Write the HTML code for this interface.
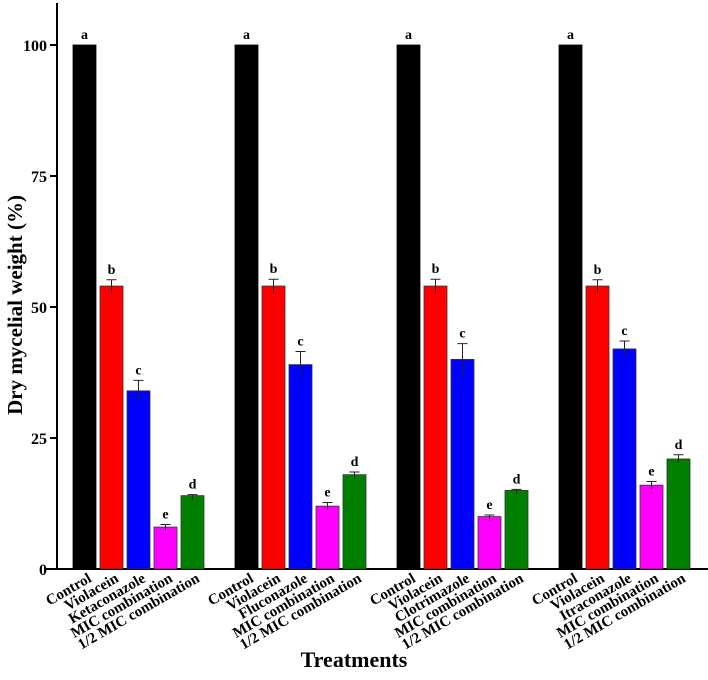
<!DOCTYPE html>
<html><head><meta charset="utf-8"><style>
body{margin:0;background:#fff}
svg text{font-family:"Liberation Serif",serif;font-weight:bold;fill:#000}
</style></head><body>
<svg id="chart" width="708" height="675" xmlns="http://www.w3.org/2000/svg">
<g id="plot"></g>
<text transform="translate(22,305) rotate(-90)" text-anchor="middle" font-size="21">Dry mycelial weight (%)</text>
<text x="354" y="667" text-anchor="middle" font-size="22">Treatments</text>
</svg>
<script>
const groups=["Ketaconazole","Fluconazole","Clotrimazole","Itraconazole"];
const treatments=["Control","Violacein","AZOLE","MIC combination","1/2 MIC combination"];
const colors=["#000000","#ff0000","#0000ff","#ff00ff","#008000"];
const values=[[100,54,34,8,14],[100,54,39,12,18],[100,54,40,10,15],[100,54,42,16,21]];
const errors=[[0,1.2,2,0.5,0.2],[0,1.3,2.5,0.7,0.5],[0,1.3,3,0.3,0.2],[0,1.2,1.5,0.7,0.8]];
const letters=["a","b","c","e","d"];
const yTicks=[0,25,50,75,100];
const NS="http://www.w3.org/2000/svg";
const g=document.getElementById('plot');
const y=v=>569-v*5.24;
const barX=(gi,bi)=>73+gi*162+bi*27;
function mk(t,a){const e=document.createElementNS(NS,t);for(const k in a)e.setAttribute(k,a[k]);g.appendChild(e);return e;}
let ax=mk('line',{x1:57,y1:3,x2:57,y2:570,stroke:'#000','stroke-width':2});

let xa=mk('line',{x1:44,y1:569,x2:708,y2:569,stroke:'#000','stroke-width':2});

yTicks.forEach(v=>{
 let t=mk('line',{x1:50,y1:y(v),x2:57,y2:y(v),stroke:'#000','stroke-width':2});
 
 let l=mk('text',{x:47,y:y(v)+6,'text-anchor':'end','font-size':16});
 l.textContent=v;
 
});
values.forEach((row,gi)=>{
 row.forEach((v,bi)=>{
  const x=barX(gi,bi),w=23;
  let r=mk('rect',{x:x,y:y(v),width:w,height:569-y(v),fill:colors[bi],stroke:bi==0?'#000':'#333','stroke-width':0.8});
  
  
  const e=errors[gi][bi],cx=x+w/2;
  if(e>0){
   let p=mk('path',{d:`M${cx},${y(v+e)}V${y(v)+Math.max(e*5.24,4)}M${cx-5},${y(v+e)}H${cx+5}`,stroke:'#222','stroke-width':1,fill:'none'});
   
  }
  let lt=mk('text',{x:cx,y:y(v+e)-6,'text-anchor':'middle','font-size':14});
  lt.textContent=letters[bi];
  
  let name=treatments[bi]=="AZOLE"?groups[gi]:treatments[bi];
  let tl=mk('text',{transform:`translate(${cx+8},${581}) rotate(-30)`,'text-anchor':'end','font-size':15});
  tl.textContent=name;
  
 });
});
</script>
</body></html>
